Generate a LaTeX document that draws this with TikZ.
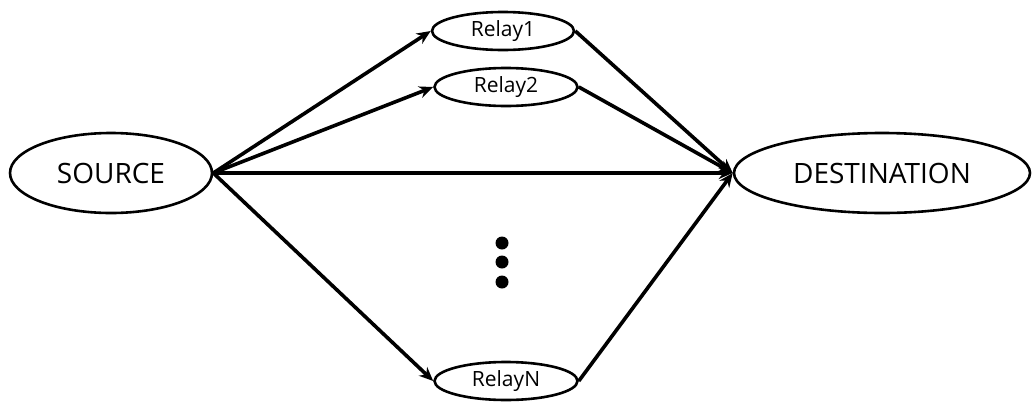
\documentclass[tikz,border=0pt]{standalone}
\usepackage{fontspec}
\setmainfont{Open Sans}
\usetikzlibrary{shapes.geometric,arrows.meta}
\begin{document}
\begin{tikzpicture}[x=1pt,y=-1pt,
  big/.style={ellipse,draw,line width=2.6pt,inner sep=0pt,font=\fontsize{28}{31}\selectfont},
  relay/.style={ellipse,draw,line width=2.6pt,inner sep=0pt,font=\fontsize{21}{25}\selectfont},
  link/.style={line width=3.6pt,-{Stealth[length=14pt,width=12pt]}}]
\useasboundingbox (0,0) rectangle (1034,402);
\node[big,minimum width=202pt,minimum height=80pt] (src) at (111,173) {SOURCE};
\node[big,minimum width=296pt,minimum height=80pt] (dst) at (882,173) {DESTINATION};
\node[relay,minimum width=142pt,minimum height=38pt] (r1) at (503,31) {Relay1};
\node[relay,minimum width=143pt,minimum height=38pt] (r2) at (506,87) {Relay2};
\node[relay,minimum width=143pt,minimum height=38pt] (rn) at (506,381) {RelayN};
\draw[link] (src.east) -- (r1.west);
\draw[link] (src.east) -- (r2.west);
\draw[link] (src.east) -- (dst.west);
\draw[link] (src.east) -- (rn.west);
\draw[link] (r1.east) -- (dst.west);
\draw[link] (r2.east) -- (dst.west);
\draw[link] (rn.east) -- (dst.west);
\fill (502,243) circle (6.5pt) (502,262) circle (6.5pt) (502,282) circle (6.5pt);
\end{tikzpicture}
\end{document}
